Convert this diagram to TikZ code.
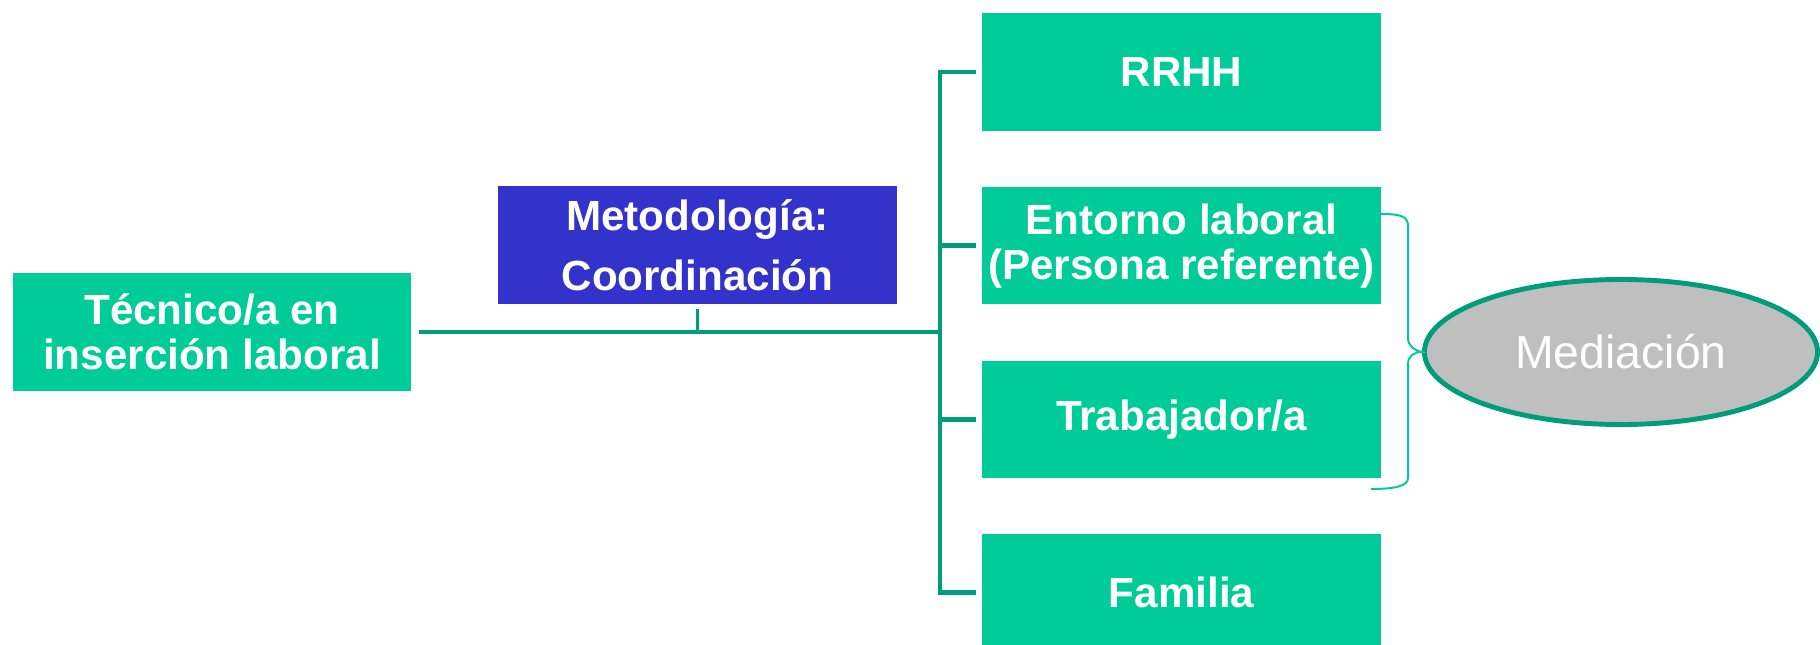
\documentclass[tikz,border=0pt]{standalone}
\usepackage{fontspec}
\setmainfont{Liberation Sans}
\usetikzlibrary{positioning,shapes.geometric}
\definecolor{boxgreen}{HTML}{00CC99}
\definecolor{linegreen}{HTML}{009E78}
\definecolor{metblue}{HTML}{3333CC}
\definecolor{medgray}{HTML}{BFBFBF}

\begin{document}
\begin{tikzpicture}[x=0.025cm,y=-0.025cm,
      green_box/.style={
         rectangle,
         fill=boxgreen,
         text=white,
         align=center,
         inner sep=0pt,
         minimum width=9.95cm,
         minimum height=2.925cm,
         font=\bfseries\fontsize{30}{32}\selectfont},
      blue_box/.style={
         green_box,
         fill=metblue,
         font=\bfseries\fontsize{30}{42.5}\selectfont},
      med_ellipse/.style={
         ellipse,
         draw=linegreen,
         line width=3.5pt,
         fill=medgray,
         text=white,
         inner sep=0pt,
         minimum width=9.825cm,
         minimum height=3.625cm,
         font=\fontsize{33}{40}\selectfont},
      link/.style={
         draw=linegreen,
         line width=3.5pt},
      brace_line/.style={
         draw=boxgreen,
         line width=1.4pt},
      node distance=1.4cm
]
      \useasboundingbox (0,0) rectangle (1820,644);

      %left side
      \node[green_box, minimum height=2.95cm] (tec) at (212,332) {T\'ecnico/a en\\inserci\'on laboral};
      \node[blue_box, minimum height=2.95cm] (met) at (697.5,245) {Metodolog\'ia:\\Coordinaci\'on};

      %right column
      \node[green_box] (rrhh) at (1181.5,72) {RRHH};
      \node[green_box,below=of rrhh] (ent) {Entorno laboral\\(Persona referente)};
      \node[green_box,below=of ent] (trab) {Trabajador/a};
      \node[green_box,below=of trab] (fam) {Familia};

      \node[med_ellipse] (med) at (1621,352) {Mediaci\'on};

      \coordinate (hub) at (940,332);

      %connectors
      \draw[link, shorten <=0.18cm] (tec.east) -- (hub);
      \draw[link, line width=2.5pt, shorten <=0.125cm] (met.south) -- (met.south |- hub);
      \draw[link] ([xshift=-0.15cm]rrhh.west) -| (hub |- fam.west) -- ([xshift=-0.15cm]fam.west);
      \foreach \n in {ent, trab}
        \draw[link] (hub |- \n.west) -- ([xshift=-0.15cm]\n.west);

      %brace
      \coordinate (bt) at (1381,214);
      \coordinate (bb) at (1371,489);
      \draw[brace_line] (bt) .. controls (1400,214) and (1408,216) .. (1408,226)
        -- (1408,338) .. controls (1408,346) and (1414,350) .. (med.west)
        .. controls (1414,352) and (1408,356) .. (1408,364)
        -- (1408,478) .. controls (1408,486) and (1395,489) .. (bb);
\end{tikzpicture}
\end{document}
